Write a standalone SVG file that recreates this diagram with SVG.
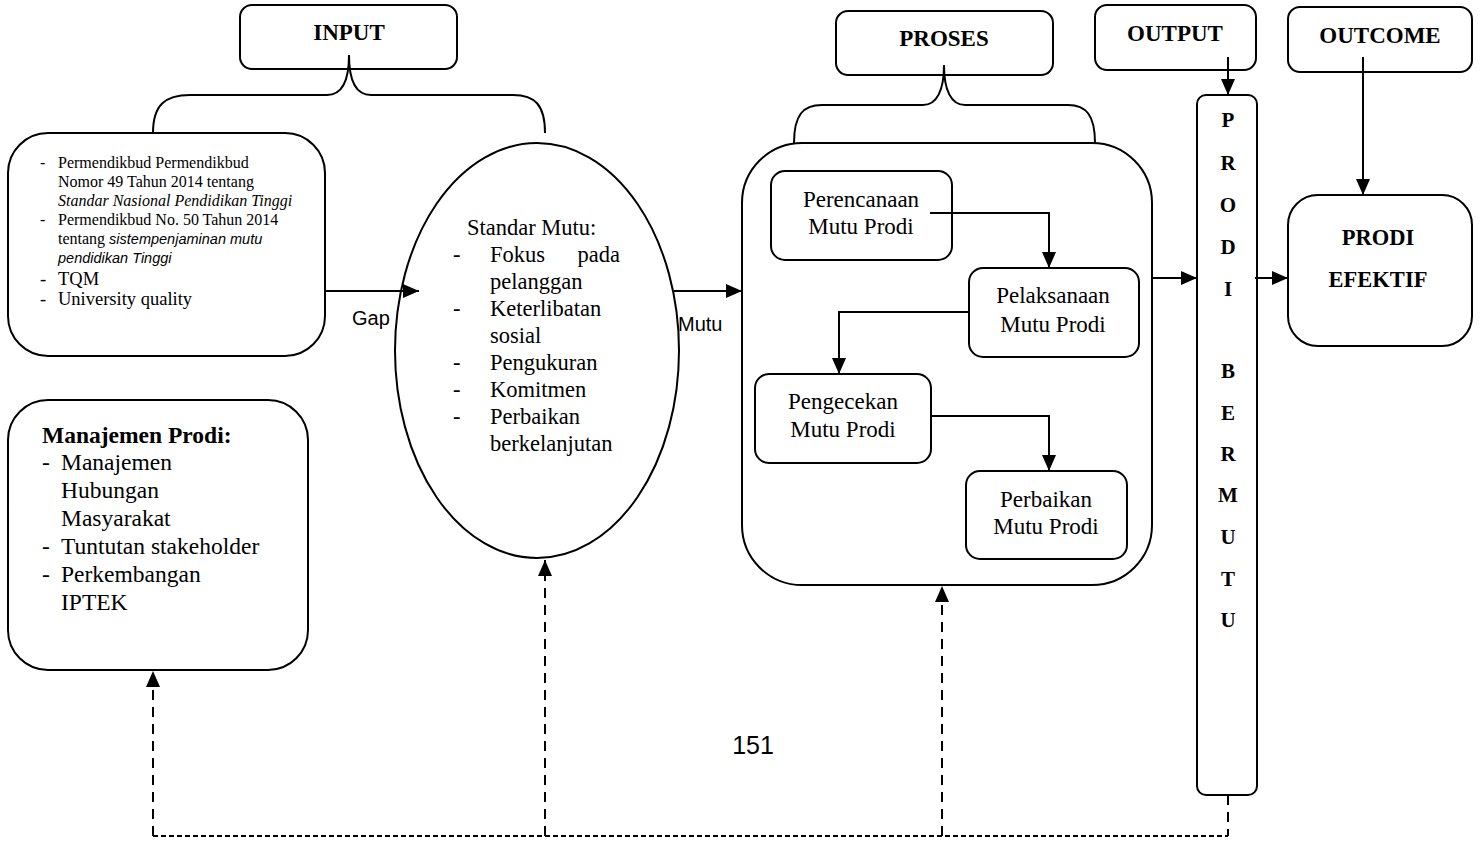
<svg xmlns="http://www.w3.org/2000/svg" width="1480" height="842" viewBox="0 0 1480 842">
<style>
.box{fill:#fff;stroke:#000;stroke-width:2}
.ln{fill:none;stroke:#000;stroke-width:2}
.dash{fill:none;stroke:#000;stroke-width:2;stroke-dasharray:10,7}
.hdash{fill:none;stroke:#000;stroke-width:2;stroke-dasharray:5,3}
.t{font-family:"Liberation Serif","Times New Roman",serif;fill:#000}
.b{font-family:"Liberation Serif","Times New Roman",serif;font-weight:bold;fill:#000}
.s{font-family:"Liberation Sans",Arial,sans-serif;fill:#000}
</style>
<defs>
<marker id="ah" markerUnits="userSpaceOnUse" markerWidth="16" markerHeight="14" refX="16" refY="7" orient="auto">
<path d="M0,0 L16,7 L0,14 z" fill="#000"/>
</marker>
</defs>
<rect width="1480" height="842" fill="#fff"/>

<g id="input">
<rect class="box" x="240" y="5" width="217" height="64" rx="12"/>
<text class="b" x="349" y="40" font-size="23" text-anchor="middle">INPUT</text>
</g>
<g id="input-brace">
<path class="ln" d="M153,133 C153,105 165,95 190,95 L327,95 C342,95 349,80 349,55 C349,80 356,95 371,95 L513,95 C535,95 545,105 545,133"/>
</g>

<g id="sources">
<rect class="box" x="8" y="133" width="317" height="223" rx="40"/>
<g class="t" font-size="16">
<text x="40" y="168">-</text><text x="58" y="168">Permendikbud Permendikbud</text>
<text x="58" y="187">Nomor 49 Tahun 2014 tentang</text>
<text x="58" y="206" font-style="italic">Standar Nasional Pendidikan Tinggi</text>
<text x="40" y="225">-</text><text x="58" y="225">Permendikbud No. 50 Tahun 2014</text>
<text x="58" y="244">tentang <tspan font-family="Liberation Sans, Arial, sans-serif" font-style="italic" font-size="14.5">sistempenjaminan mutu</tspan></text>
<text x="58" y="263" font-family="Liberation Sans, Arial, sans-serif" font-style="italic" font-size="14.5">pendidikan Tinggi</text>
</g>
<g class="t" font-size="18.5">
<text x="40" y="285">-</text><text x="58" y="285">TQM</text>
<text x="40" y="305">-</text><text x="58" y="305">University quality</text>
</g>
</g>

<g id="manajemen">
<rect class="box" x="8" y="400" width="300" height="270" rx="40"/>
<text class="b" x="42" y="443" font-size="23.5">Manajemen Prodi:</text>
<g class="t" font-size="23.5">
<text x="42" y="470">-</text><text x="61" y="470">Manajemen</text>
<text x="61" y="498">Hubungan</text>
<text x="61" y="526">Masyarakat</text>
<text x="42" y="554">-</text><text x="61" y="554">Tuntutan stakeholder</text>
<text x="42" y="582">-</text><text x="61" y="582">Perkembangan</text>
<text x="61" y="610">IPTEK</text>
</g>
</g>

<g id="standar-mutu">
<ellipse class="box" cx="537" cy="350.5" rx="142" ry="207.5"/>
<g class="t" font-size="22.5">
<text x="467" y="235">Standar Mutu:</text>
<text x="453" y="262">-</text><text x="490" y="262">Fokus</text><text x="620" y="262" text-anchor="end">pada</text>
<text x="490" y="289">pelanggan</text>
<text x="453" y="316">-</text><text x="490" y="316">Keterlibatan</text>
<text x="490" y="343">sosial</text>
<text x="453" y="370">-</text><text x="490" y="370">Pengukuran</text>
<text x="453" y="397">-</text><text x="490" y="397">Komitmen</text>
<text x="453" y="424">-</text><text x="490" y="424">Perbaikan</text>
<text x="490" y="451">berkelanjutan</text>
</g>
</g>

<g id="proses">
<rect class="box" x="836" y="11" width="217" height="64" rx="12"/>
<text class="b" x="944" y="46" font-size="23" text-anchor="middle">PROSES</text>
</g>
<g id="proses-brace">
<path class="ln" d="M794,143 C794,115 803,105 822,105 L923,105 C937,105 944,90 944,65 C944,90 951,105 965,105 L1068,105 C1086,105 1095,115 1095,143"/>
</g>

<g id="proses-container">
<rect class="box" x="742" y="143" width="410" height="442" rx="60"/>
</g>
<g id="perencanaan">
<rect class="box" x="771" y="171" width="181" height="89" rx="14"/>
<text class="t" x="861" y="207" font-size="23" text-anchor="middle">Perencanaan</text>
<text class="t" x="861" y="234" font-size="23" text-anchor="middle">Mutu Prodi</text>
</g>
<g id="pelaksanaan">
<rect class="box" x="969" y="268" width="170" height="89" rx="14"/>
<text class="t" x="1053" y="303" font-size="23" text-anchor="middle">Pelaksanaan</text>
<text class="t" x="1053" y="332" font-size="23" text-anchor="middle">Mutu Prodi</text>
</g>
<g id="pengecekan">
<rect class="box" x="755" y="374" width="176" height="89" rx="14"/>
<text class="t" x="843" y="409" font-size="23" text-anchor="middle">Pengecekan</text>
<text class="t" x="843" y="437" font-size="23" text-anchor="middle">Mutu Prodi</text>
</g>
<g id="perbaikan">
<rect class="box" x="966" y="471" width="161" height="88" rx="14"/>
<text class="t" x="1046" y="507" font-size="23" text-anchor="middle">Perbaikan</text>
<text class="t" x="1046" y="534" font-size="23" text-anchor="middle">Mutu Prodi</text>
</g>

<g id="output">
<rect class="box" x="1095" y="5" width="161" height="65" rx="12"/>
<text class="b" x="1175" y="41" font-size="23" text-anchor="middle">OUTPUT</text>
</g>
<g id="outcome">
<rect class="box" x="1288" y="7" width="184" height="65" rx="12"/>
<text class="b" x="1380" y="43" font-size="23" text-anchor="middle">OUTCOME</text>
</g>

<g id="prodi-bermutu">
<rect class="box" x="1197" y="95" width="60" height="700" rx="9"/>
<g class="b" font-size="21" text-anchor="middle">
<text x="1228" y="127">P</text>
<text x="1228" y="170">R</text>
<text x="1228" y="212">O</text>
<text x="1228" y="254">D</text>
<text x="1228" y="296">I</text>
<text x="1228" y="378">B</text>
<text x="1228" y="420">E</text>
<text x="1228" y="461">R</text>
<text x="1228" y="502">M</text>
<text x="1228" y="544">U</text>
<text x="1228" y="586">T</text>
<text x="1228" y="627">U</text>
</g>
</g>

<g id="prodi-efektif">
<rect class="box" x="1288" y="195" width="184" height="151" rx="30"/>
<text class="b" x="1378" y="245" font-size="22.5" text-anchor="middle">PRODI</text>
<text class="b" x="1378" y="287" font-size="22.5" text-anchor="middle">EFEKTIF</text>
</g>

<g id="labels">
<text class="s" x="352" y="325" font-size="20">Gap</text>
<text class="s" x="678" y="331" font-size="20">Mutu</text>
<text class="s" x="753" y="754" font-size="25" text-anchor="middle">151</text>
</g>

<g id="connectors">
<line class="ln" x1="325" y1="291" x2="419" y2="291" marker-end="url(#ah)"/>
<line class="ln" x1="674" y1="291" x2="742" y2="291" marker-end="url(#ah)"/>
<polyline class="ln" points="930,213 1049,213 1049,268" marker-end="url(#ah)"/>
<polyline class="ln" points="969,312 839,312 839,374" marker-end="url(#ah)"/>
<polyline class="ln" points="931,416 1049,416 1049,471" marker-end="url(#ah)"/>
<line class="ln" x1="1228" y1="57" x2="1228" y2="95" marker-end="url(#ah)"/>
<line class="ln" x1="1363" y1="57" x2="1363" y2="195" marker-end="url(#ah)"/>
<line class="ln" x1="1152" y1="278" x2="1197" y2="278" marker-end="url(#ah)"/>
<line class="ln" x1="1255" y1="278" x2="1288" y2="278" marker-end="url(#ah)"/>
<line class="dash" x1="1228" y1="795" x2="1228" y2="836"/>
<line class="hdash" x1="153" y1="836" x2="1228" y2="836"/>
<line class="dash" x1="153" y1="836" x2="153" y2="671" marker-end="url(#ah)"/>
<line class="dash" x1="545" y1="836" x2="545" y2="560" marker-end="url(#ah)"/>
<line class="dash" x1="942" y1="836" x2="942" y2="586" marker-end="url(#ah)"/>
</g>
</svg>
